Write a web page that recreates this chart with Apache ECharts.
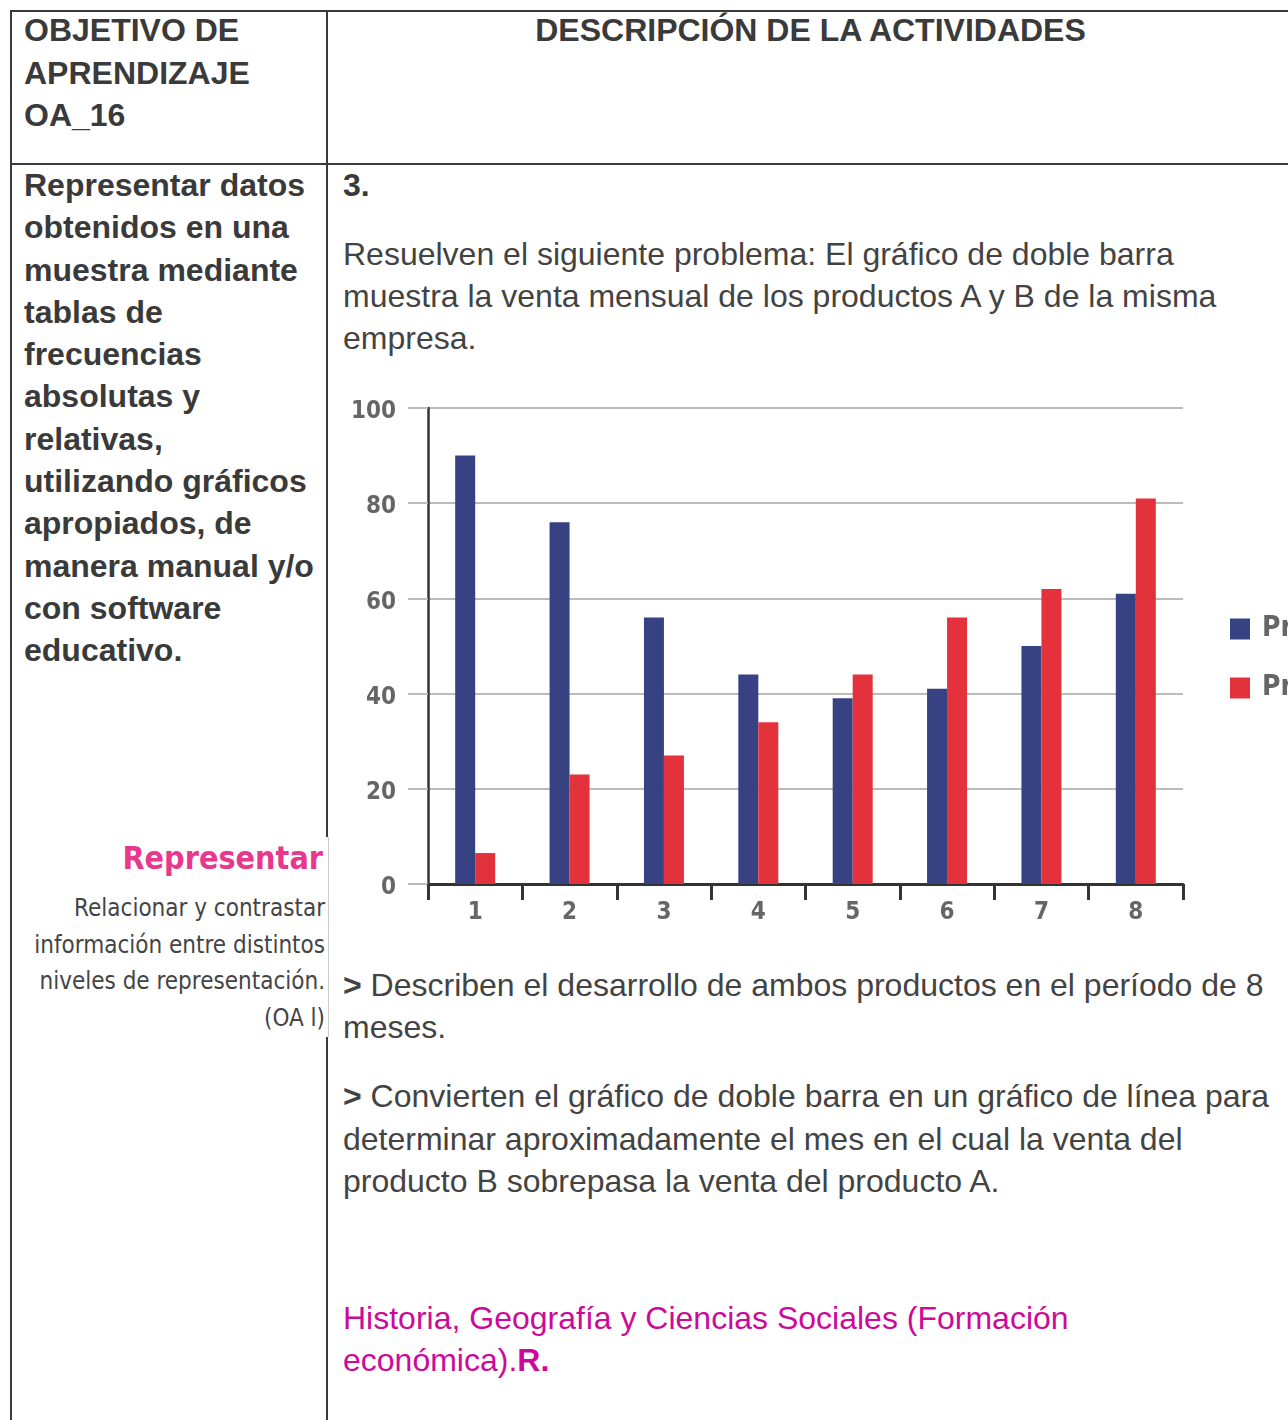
<!DOCTYPE html>
<html>
<head>
<meta charset="utf-8">
<script src="https://cdn.jsdelivr.net/npm/echarts@6/dist/echarts.min.js"></script>
<style>
  html, body { margin: 0; padding: 0; background: #fff; width: 1288px; height: 1420px; overflow: hidden; position: relative; }
  .t { position: absolute; font-family: "Liberation Sans", Arial, sans-serif; color: #434343; white-space: nowrap; }
  .b { font-weight: bold; color: #3a3a3a; }
  .line { position: absolute; background: #3a3a3a; }
  .narrow { font-family: "DejaVu Sans Condensed", "Liberation Sans Narrow", sans-serif; }
</style>
</head>
<body>
<!-- table borders -->
<div class="line" style="left:10px;top:10px;width:1283px;height:2px;"></div>
<div class="line" style="left:10px;top:10px;width:2px;height:1420px;"></div>
<div class="line" style="left:326px;top:10px;width:2px;height:1420px;"></div>
<div class="line" style="left:10px;top:163px;width:1283px;height:2px;"></div>

<!-- header -->
<div class="t b" style="left:24px;top:9px;font-size:32px;line-height:42.5px;">OBJETIVO DE<br>APRENDIZAJE<br>OA_16</div>
<div class="t b" style="left:328px;width:965px;text-align:center;top:9px;font-size:32px;line-height:42.5px;">DESCRIPCIÓN DE LA ACTIVIDADES</div>

<!-- left column -->
<div class="t b" style="left:24px;top:164px;font-size:32px;line-height:42.3px;">Representar datos<br>obtenidos en una<br>muestra mediante<br>tablas de<br>frecuencias<br>absolutas y<br>relativas,<br>utilizando gráficos<br>apropiados, de<br>manera manual y/o<br>con software<br>educativo.</div>

<!-- Representar box -->
<div style="position:absolute;left:20px;top:837px;width:308px;height:200px;background:#fff;border-right:1px solid #ccc;"></div>
<div class="t" style="left:20px;width:303px;text-align:right;top:836px;font-size:32px;line-height:44px;font-weight:bold;color:#e8388e;font-family:'DejaVu Sans Condensed','Liberation Sans Narrow',sans-serif;">Representar</div>
<div class="t narrow" style="left:20px;width:305px;text-align:right;top:890px;font-size:24px;line-height:36.7px;color:#444;">Relacionar y contrastar<br>información entre distintos<br>niveles de representación.<br>(OA l)</div>

<!-- right column text -->
<div class="t b" style="left:343px;top:164px;font-size:32px;line-height:42px;">3.</div>
<div class="t" style="left:343px;top:233px;font-size:32px;line-height:42px;">Resuelven el siguiente problema: El gráfico de doble barra<br>muestra la venta mensual de los productos A y B de la misma<br>empresa.</div>

<div id="chart" style="position:absolute;left:330px;top:380px;width:1000px;height:580px;"></div>

<div class="t" style="left:343px;top:964px;font-size:32px;line-height:42px;"><b>&gt;</b> Describen el desarrollo de ambos productos en el período de 8<br>meses.</div>
<div class="t" style="left:343px;top:1075px;font-size:32px;line-height:42.5px;"><b>&gt;</b> Convierten el gráfico de doble barra en un gráfico de línea para<br>determinar aproximadamente el mes en el cual la venta del<br>producto B sobrepasa la venta del producto A.</div>
<div class="t" style="left:343px;top:1297px;font-size:32px;line-height:42px;color:#cc0a99;">Historia, Geografía y Ciencias Sociales (Formación<br>económica).<b>R.</b></div>

<script>
const months = ['1', '2', '3', '4', '5', '6', '7', '8'];
const productA = [90, 76, 56, 44, 39, 41, 50, 61];
const productB = [6.5, 23, 27, 34, 44, 56, 62, 81];
const seriesNames = ['Producto A', 'Producto B'];
const yMin = 0, yMax = 100, yStep = 20;

const chart = echarts.init(document.getElementById('chart'), null, { renderer: 'canvas' });
const fontFam = "'DejaVu Sans Condensed', 'Liberation Sans Narrow', sans-serif";
const labelFont = { fontFamily: fontFam, fontSize: 24, fontWeight: 'bold', color: '#666' };
chart.setOption({
  animation: false,
  grid: { left: 98, top: 28, width: 755, height: 476, containLabel: false },
  legend: {
    orient: 'vertical', left: 900, top: 235, padding: 0, itemWidth: 20, itemHeight: 21, itemGap: 31,
    icon: 'rect',
    textStyle: { fontFamily: fontFam, fontSize: 28, fontWeight: 'bold', color: '#666', padding: [0, 0, 0, 7] },
    data: seriesNames
  },
  xAxis: {
    type: 'category', data: months, boundaryGap: true,
    axisLine: { lineStyle: { color: '#333', width: 3 } },
    axisTick: { show: true, length: 16, lineStyle: { color: '#333', width: 3 } },
    axisLabel: Object.assign({ margin: 17 }, labelFont),
    splitLine: { show: false }
  },
  yAxis: {
    type: 'value', min: yMin, max: yMax, interval: yStep,
    axisLine: { show: true, lineStyle: { color: '#333', width: 2.5 } },
    axisTick: { show: true, length: 20, lineStyle: { color: '#bbb', width: 2 } },
    axisLabel: Object.assign({
      margin: 32,
      formatter: '{v|{value}}',
      rich: { v: { fontFamily: fontFam, fontSize: 24, fontWeight: 'bold', color: '#666', padding: [8, 0, 0, 0] } }
    }, labelFont),
    splitLine: { show: true, lineStyle: { color: '#bbb', width: 2 } }
  },
  series: [
    { name: seriesNames[0], type: 'bar', data: productA, barWidth: 20, barGap: '0%', itemStyle: { color: '#374283' } },
    { name: seriesNames[1], type: 'bar', data: productB, barWidth: 20, barGap: '0%', itemStyle: { color: '#e3323b' } }
  ]
});
</script>
</body>
</html>
